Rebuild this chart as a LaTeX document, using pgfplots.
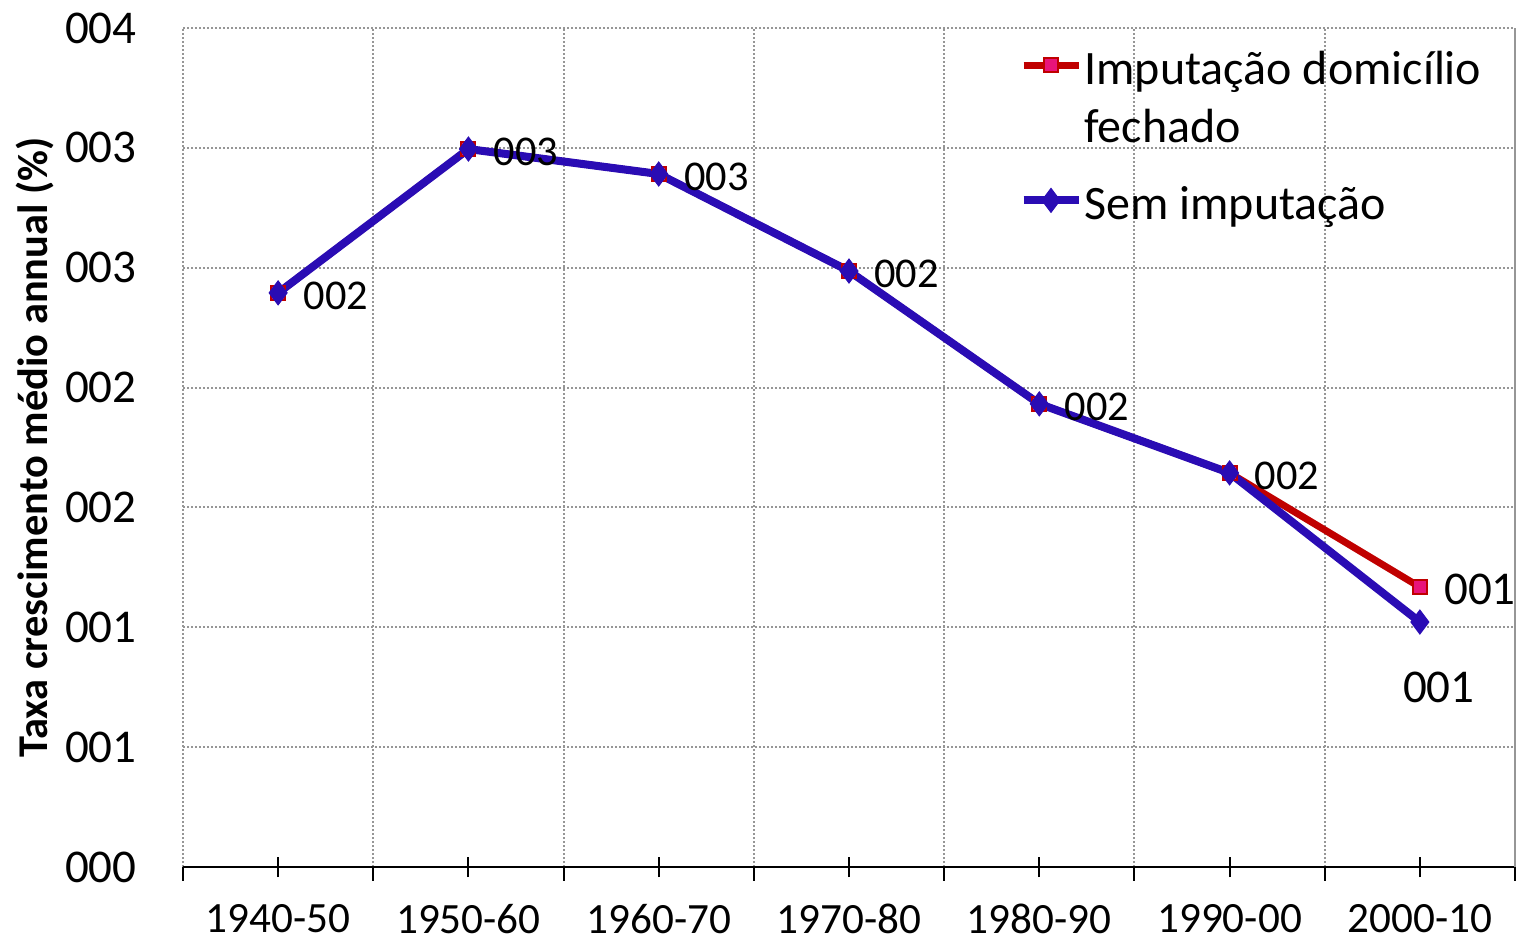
\documentclass[border=0pt]{standalone}
\usepackage{fontspec}
\setmainfont{Carlito}
\usepackage{pgfplots}
\pgfplotsset{compat=1.18}
\usepackage{pgfplotstable}
\definecolor{redline}{RGB}{192,0,0}
\definecolor{redfill}{RGB}{232,20,122}
\definecolor{blueline}{RGB}{42,12,180}
\definecolor{gridgray}{RGB}{150,150,150}

\pgfplotstableread{
x y
0 2.395
1 2.995
2 2.891
3 2.486
4 1.932
5 1.644
6 1.168
}\redtab
\pgfplotstableread{
x y
0 2.395
1 2.995
2 2.891
3 2.486
4 1.932
5 1.644
6 1.022
}\bluetab
\pgfplotstableread{
x y lab
0 2.395 002
1 2.995 003
2 2.891 003
3 2.486 002
4 1.932 002
5 1.644 002
}\labtab
\pgfplotstableread{
x y lab
6 1.168 001
}\labred
\pgfplotstableread{
x y lab
6 1.022 001
}\labblue

\newcommand{\tfont}{\fontsize{23.5}{28}\selectfont}
\newcommand{\xfont}{\fontsize{21.6}{26}\selectfont}
\newcommand{\dfont}{\fontsize{21.2}{25}\selectfont}
\newcommand{\lfont}{\fontsize{24}{29}\selectfont}
\newcommand{\rowA}{\rule{0pt}{24pt}}
\begin{document}
\begin{tikzpicture}
\begin{axis}[
  name=ax,
  scale only axis,
  width=666pt, height=419.5pt,
  xmin=-0.5, xmax=6.5, ymin=0, ymax=3.5,
  axis line style={draw=none},
  xtick={0,...,6},
  xticklabels={1940-50,1950-60,1960-70,1970-80,1980-90,1990-00,2000-10},
  minor xtick={-0.5,0.5,1.5,2.5,3.5,4.5,5.5,6.5},
  ytick={0,0.5,1,1.5,2,2.5,3,3.5},
  yticklabels={000,001,001,002,002,003,003,004},
  xtick pos=bottom, ytick pos=left,
  xmajorgrids=false, xminorgrids=true, ymajorgrids=true,
  grid style={draw=gridgray, line width=1pt, dash pattern=on 1pt off 1pt},
  minor grid style={draw=gridgray, line width=1pt, dash pattern=on 1pt off 1pt},
  tick align=center,
  major tick length=10pt,
  minor tick length=0pt,
  x tick style={black, line width=1pt},
  y tick style={draw=none},
  xticklabel style={font=\xfont, anchor=center, yshift=-21pt, inner sep=0pt},
  yticklabel style={font=\tfont, anchor=east, inner sep=0pt, xshift=-18pt},
  ylabel={Taxa crescimento médio annual (\%)},
  every axis y label/.style={at={([xshift=-74pt]rel axis cs:0,0.5)}, rotate=90, anchor=center, font=\fontsize{21.2}{25}\selectfont\bfseries},
  legend style={at={(rel axis cs:0.6277,0.9905)}, anchor=north west, draw=none, fill=none,
    font=\lfont, inner sep=0pt, row sep=0pt, column sep=1pt,
    nodes={inner sep=0pt, text=black, text depth=5pt}},
  legend cell align=left,
  legend image code/.code={\draw[mark repeat=2,mark phase=2] plot coordinates {(0pt,0pt) (13.75pt,0pt) (27.5pt,0pt)};},
  clip=false,
]
\draw[black, line width=1.25pt] (rel axis cs:0,0) -- (rel axis cs:1,0);
\draw[gridgray, line width=1pt] (rel axis cs:1,0) -- (rel axis cs:1,1);
\pgfplotsinvokeforeach{-0.5,0.5,1.5,2.5,3.5,4.5,5.5,6.5}{
  \draw[black, line width=1pt] (axis cs:#1,0) -- ++(0pt,-7pt);
}
\addplot[redline, line width=3.5pt, mark=square*, mark size=3.5pt,
  mark options={fill=redfill, draw=redline, line width=1pt}] table[x=x,y=y] {\redtab};
\addlegendentry{\rowA Imputação domicílio}
\addlegendimage{empty legend}
\addlegendentry[text depth=14.5pt]{\rowA fechado}
\addplot[blueline, line width=4pt, mark=diamond*, mark size=6pt,
  mark options={fill=blueline, draw=blueline, line width=0.5pt}] table[x=x,y=y] {\bluetab};
\addlegendentry{\rowA Sem imputação}
\addplot[draw=none, mark=none, forget plot, nodes near coords, point meta=explicit symbolic,
  nodes near coords style={anchor=west, xshift=12.5pt, yshift=-1.5pt, font=\dfont, text=black, inner sep=0pt}]
  table[x=x,y=y,meta=lab] {\labtab};
\addplot[draw=none, mark=none, forget plot, nodes near coords, point meta=explicit symbolic,
  nodes near coords style={anchor=west, xshift=12pt, yshift=-1pt, font=\tfont, text=black, inner sep=0pt}]
  table[x=x,y=y,meta=lab] {\labred};
\addplot[draw=none, mark=none, forget plot, nodes near coords, point meta=explicit symbolic,
  nodes near coords style={anchor=center, xshift=9.5pt, yshift=-32.5pt, font=\tfont, text=black, inner sep=0pt}]
  table[x=x,y=y,meta=lab] {\labblue};
\end{axis}
\pgfresetboundingbox
\path[use as bounding box] ([shift={(-91.5pt,-36.5pt)}]ax.south west) rectangle ([shift={(5pt,14pt)}]ax.north east);
\end{tikzpicture}
\end{document}
